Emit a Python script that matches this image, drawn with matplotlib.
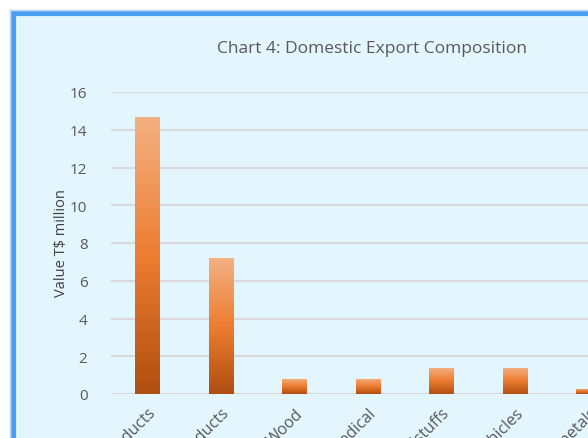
import matplotlib
matplotlib.use("Agg")
import matplotlib.pyplot as plt
import numpy as np
from matplotlib.patches import Rectangle
from matplotlib.colors import LinearSegmentedColormap

categories = ["Vegetable Products", "Animal Products", "Wood", "Optical & Medical",
              "Prepared Foodstuffs", "Vehicles", "Base metals"]
values = [14.7, 7.2, 0.8, 0.8, 1.4, 1.4, 0.28]
yticks = [0, 2, 4, 6, 8, 10, 12, 14, 16]

W, H = 588, 439
fig = plt.figure(figsize=(W / 100, H / 100), dpi=100)
fig.patch.set_facecolor("white")

def px(x, y):
    return x / W, 1 - y / H

# chart area background with blue border (extends beyond the crop)
for lw, a in [(10, 0.12), (8, 0.25), (6, 0.5)]:
    fig.patches.append(Rectangle(px(13.5, 600), 700 / W, (600 - 14.5) / H,
                                 transform=fig.transFigure, facecolor="none",
                                 edgecolor="#3d95ee", lw=lw * 0.72, alpha=a, zorder=0))
fig.patches.append(Rectangle(px(13.5, 600), 700 / W, (600 - 14.5) / H,
                             transform=fig.transFigure, facecolor="#e3f5fd",
                             edgecolor="#4a9ff2", lw=3.0, zorder=0.5))

step = 73.5
n = len(categories)
x0, xr = 111, 111 + n * step
y0, y16 = 395, 93
ax = fig.add_axes([x0 / W, 1 - y0 / H, (xr - x0) / W, (y0 - y16) / H])
ax.set_facecolor("none")
ax.set_zorder(2)

x = np.arange(n)
bars = ax.bar(x, values, width=0.34, color="#ed7d31", zorder=3)

cmap = LinearSegmentedColormap.from_list(
    "g", [(0, "#b04e10"), (0.5, "#ed7d31"), (1, "#f4b183")])
grad = np.linspace(0, 1, 256).reshape(-1, 1)
for b in bars:
    bx, bw, bh = b.get_x(), b.get_width(), b.get_height()
    im = ax.imshow(grad, cmap=cmap, origin="lower", aspect="auto",
                   extent=[bx, bx + bw, 0, bh], zorder=4)
    im.set_clip_path(b)

ax.set_xlim(-0.5, n - 0.5)
ax.set_ylim(0, 16)
ax.set_yticks(yticks)
ax.set_yticklabels([str(v) for v in yticks])
ax.grid(axis="y", color="#d9d9d9", lw=1.5, zorder=1)
ax.set_axisbelow(True)
for s in ax.spines.values():
    s.set_visible(False)
ax.tick_params(axis="both", length=0, colors="#595959", labelsize=11)
ax.tick_params(axis="y", pad=17)
ax.set_xticks(x)
ax.set_xticklabels(categories, rotation=45, ha="right", rotation_mode="anchor",
                   fontsize=11.5, color="#595959")
ax.tick_params(axis="x", pad=8)
for lab in ax.get_yticklabels() + ax.get_xticklabels():
    lab.set_family("Open Sans")

fig.text(*px(372, 49), "Chart 4: Domestic Export Composition", ha="center", va="center",
         fontsize=12.5, color="#595959", family="Open Sans")
fig.text(*px(61, 243), "Value T$ million", rotation=90, ha="center", va="center",
         fontsize=10.5, color="#404040", family="Open Sans")

fig.savefig("out.png", dpi=100, facecolor="white")
